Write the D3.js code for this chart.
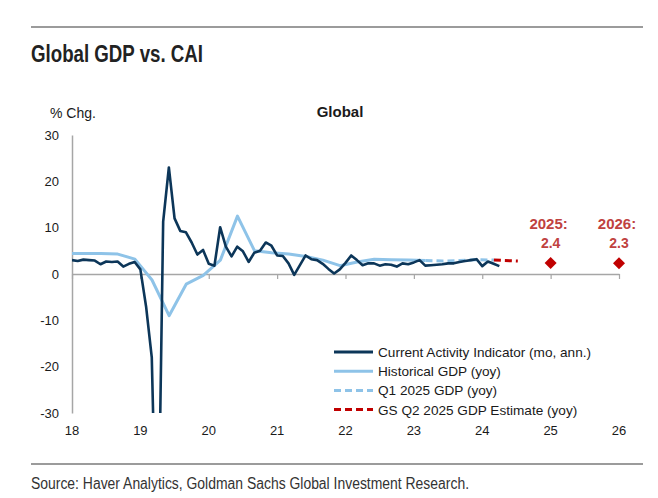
<!DOCTYPE html>
<html>
<head>
<meta charset="utf-8">
<title>Global GDP vs. CAI</title>
<script src="https://d3js.org/d3.v7.min.js"></script>
<style>
  body { margin: 0; background: #fff; }
  svg text { font-family: "Liberation Sans", Arial, sans-serif; fill: #1a1a1a; }
</style>
</head>
<body>
<svg id="chart" width="658" height="498"></svg>
<script>
// x values are in years as labelled on the axis (18 = start of "18")
const xTicks = [18, 19, 20, 21, 22, 23, 24, 25, 26];
const yTicks = [30, 20, 10, 0, -10, -20, -30];

// Current Activity Indicator, monthly from 18.0
const caiStart = 18;
const caiValues = [3.0, 2.8, 3.1, 3.0, 2.9, 2.1, 2.7, 2.6, 2.7, 1.6, 2.2, 2.6,
  1.0, -7, -18, -70, 11.3, 23, 12, 9.3, 9.0, 6.8, 4.2, 5.2,
  2.2, 1.8, 10.1, 5.9, 3.8, 5.9, 4.9, 2.6, 4.6, 5.0, 6.8, 6.1,
  4.0, 3.9, 2.3, -0.2, 1.9, 4.0, 3.2, 3.0, 2.2, 1.1, 0.1, 1.0,
  2.4, 4.0, 3.0, 1.9, 2.3, 2.3, 1.8, 2.1, 2.0, 1.6, 2.3, 2.1,
  2.5, 3.0, 1.8, 1.9, 2.0, 2.1, 2.3, 2.3, 2.6, 2.8, 3.0, 3.2,
  1.7, 2.7, 2.2, 1.7];

// Historical GDP (yoy), quarterly
const gdpDates = [17.92, 18.17, 18.42, 18.67, 18.92, 19.17, 19.42, 19.67, 19.92,
  20.17, 20.42, 20.67, 20.92, 21.17, 21.42, 21.67, 21.92, 22.17, 22.42, 22.67, 22.92, 23.17];
const gdpValues = [4.4, 4.4, 4.4, 4.3, 3.2, -1.3, -9.0, -2.2, -0.3,
  3.0, 12.5, 5.0, 4.6, 4.3, 3.8, 3.0, 1.8, 2.6, 3.2, 3.1, 3.0, 2.9];

// Q1 2025 GDP (yoy)
const q1Dates = [23.17, 23.42, 23.67, 23.92, 24.17];
const q1Values = [2.9, 2.8, 2.9, 3.1, 3.0];

// GS Q2 2025 estimate
const q2Dates = [24.17, 24.52];
const q2Values = [3.0, 2.8];

// annual forecasts
const fcYears = [25, 26];
const fcValues = [2.4, 2.3];
const fcLabels = ["2025:", "2026:"];

const legendLabels = ["Current Activity Indicator (mo, ann.)", "Historical GDP (yoy)",
  "Q1 2025 GDP (yoy)", "GS Q2 2025 GDP Estimate (yoy)"];

const navy = "#0c3659", light = "#8ec3e8", red = "#c00000", redText = "#c0423f";

const svg = d3.select("#chart");

const x = d3.scaleLinear().domain([18, 26]).range([72, 619]);
const y = d3.scaleLinear().domain([-30, 30]).range([413, 135]);

// header / footer (narrow font squeezed with textLength)
svg.append("line").attr("x1", 31).attr("x2", 643).attr("y1", 27).attr("y2", 27)
  .attr("stroke", "#7a7a7a").attr("stroke-width", 1.3);
svg.append("text").attr("x", 31).attr("y", 62).text("Global GDP vs. CAI")
  .attr("textLength", 172).attr("lengthAdjust", "spacingAndGlyphs")
  .style("font-weight", "bold").style("font-size", "23px").style("fill", "#222");
svg.append("line").attr("x1", 31).attr("x2", 643).attr("y1", 464).attr("y2", 464)
  .attr("stroke", "#7a7a7a").attr("stroke-width", 1.3);
svg.append("text").attr("x", 31).attr("y", 489)
  .text("Source: Haver Analytics, Goldman Sachs Global Investment Research.")
  .attr("textLength", 438).attr("lengthAdjust", "spacingAndGlyphs")
  .style("font-size", "16px").style("fill", "#333");

svg.append("text").attr("x", 50).attr("y", 118).text("% Chg.").style("font-size", "14px");
svg.append("text").attr("x", 340).attr("y", 117).attr("text-anchor", "middle")
  .text("Global").style("font-size", "15px").style("font-weight", "bold");

// y axis
const yAxis = svg.append("g").attr("transform", "translate(72,0)")
  .call(d3.axisLeft(y).tickValues(yTicks).tickSize(0).tickPadding(13).tickFormat(d => String(d)));
yAxis.select(".domain").attr("stroke", "#a6a6a6").attr("stroke-width", 1.5);
yAxis.selectAll("text").style("font-size", "13px");

// x axis on zero line
const xAxis = svg.append("g").attr("transform", `translate(0,${y(0)})`)
  .call(d3.axisBottom(x).tickValues(xTicks).tickSize(5).tickSizeOuter(0).tickFormat(d3.format("d")));
xAxis.select(".domain").attr("stroke", "#a6a6a6").attr("stroke-width", 1.5);
xAxis.selectAll(".tick line").attr("stroke", "#a6a6a6").attr("stroke-width", 1.2);
xAxis.selectAll("text").remove();
svg.append("g").selectAll("text").data(xTicks).join("text")
  .attr("x", d => x(d)).attr("y", 435).attr("text-anchor", "middle")
  .style("font-size", "13px").text(d => d);

// clip area
svg.append("clipPath").attr("id", "plot").append("rect")
  .attr("x", 72).attr("y", 135).attr("width", 560).attr("height", 278);

const line = d3.line().x(d => x(d[0])).y(d => y(d[1]));
const plot = svg.append("g").attr("clip-path", "url(#plot)");

const gdp = gdpDates.map((d, i) => [d, gdpValues[i]]);
const q1 = q1Dates.map((d, i) => [d, q1Values[i]]);
const q2 = q2Dates.map((d, i) => [d, q2Values[i]]);
const cai = caiValues.map((v, i) => [caiStart + i / 12, v]);

plot.append("path").attr("d", line(gdp)).attr("fill", "none")
  .attr("stroke", light).attr("stroke-width", 3).attr("stroke-linejoin", "round");
plot.append("path").attr("d", line(q1)).attr("fill", "none")
  .attr("stroke", light).attr("stroke-width", 3).attr("stroke-dasharray", "7,4");
plot.append("path").attr("d", line(cai)).attr("fill", "none")
  .attr("stroke", navy).attr("stroke-width", 2.6).attr("stroke-linejoin", "round");
plot.append("path").attr("d", line(q2)).attr("fill", "none")
  .attr("stroke", red).attr("stroke-width", 3).attr("stroke-dasharray", "7,4");

// forecast diamonds
const fc = svg.append("g");
fc.selectAll("path").data(fcYears).join("path")
  .attr("d", d3.symbol(d3.symbolSquare, 72))
  .attr("transform", (d, i) => `translate(${x(d)},${y(fcValues[i])}) rotate(45)`)
  .attr("fill", red);
fc.selectAll("text.yr").data(fcYears).join("text").attr("class", "yr")
  .attr("x", d => x(d) - 2).attr("y", 229).attr("text-anchor", "middle")
  .style("font-size", "15px").style("font-weight", "bold").style("fill", redText)
  .text((d, i) => fcLabels[i]);
fc.selectAll("text.val").data(fcYears).join("text").attr("class", "val")
  .attr("x", d => x(d)).attr("y", 248).attr("text-anchor", "middle")
  .style("font-size", "14px").style("font-weight", "bold").style("fill", redText)
  .text((d, i) => d3.format(".1f")(fcValues[i]));

// legend
const legendStyles = [
  { c: navy, w: 3, dash: null },
  { c: light, w: 3, dash: null },
  { c: light, w: 3, dash: "7,4" },
  { c: red, w: 3, dash: "7,4" }
];
const lg = svg.append("g").attr("transform", "translate(334,352)");
const rows = lg.selectAll("g").data(legendLabels).join("g")
  .attr("transform", (d, i) => `translate(0,${i * 19.2})`);
rows.append("line").attr("x1", 0).attr("x2", 39).attr("y1", 0).attr("y2", 0)
  .attr("stroke", (d, i) => legendStyles[i].c).attr("stroke-width", (d, i) => legendStyles[i].w)
  .attr("stroke-dasharray", (d, i) => legendStyles[i].dash);
rows.append("text").attr("x", 44).attr("y", 5).style("font-size", "13.6px").text(d => d);
</script>
</body>
</html>
